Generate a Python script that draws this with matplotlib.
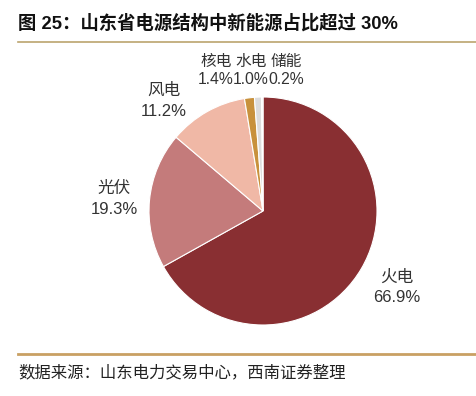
import matplotlib
matplotlib.use("Agg")
import matplotlib.pyplot as plt
from matplotlib.lines import Line2D

plt.rcParams['font.family'] = ['Liberation Sans', 'Noto Sans CJK SC', 'DejaVu Sans']

categories = ["火电", "光伏", "风电", "核电", "水电", "储能"]
values = [66.9, 19.3, 11.2, 1.4, 1.0, 0.2]
colors = ["#892F32", "#C47B7B", "#F0B8A6", "#C8913C", "#DCDCDC", "#F2F2F2"]
title = "图 25：山东省电源结构中新能源占比超过 30%"
source = "数据来源：山东电力交易中心，西南证券整理"

W, H = 477, 396
fig = plt.figure(figsize=(W / 100, H / 100), dpi=100)
fig.patch.set_facecolor("white")

def fx(px):
    return px / W

def fy(py):
    return 1 - py / H

# pie axes: center (263, 211), radius 114 px
cx, cy, r = 263, 211, 114
ax = fig.add_axes([fx(cx - r), fy(cy + r), 2 * r / W, 2 * r / H])
ax.pie(values, colors=colors, startangle=90, counterclock=False,
       wedgeprops=dict(edgecolor="white", linewidth=0.8), radius=1.0)
ax.set_xlim(-1, 1)
ax.set_ylim(-1, 1)
ax.axis("off")

# labels (pixel positions of label centers, font size)
label_pos = {
    "火电": (397, 277, 297, 12),
    "光伏": (114, 188, 209, 12),
    "风电": (164, 90, 111, 12),
    "核电": (216, 61, 80, 11.3),
    "水电": (251, 61, 80, 11.3),
    "储能": (286, 61, 80, 11.3),
}
for cat, val in zip(categories, values):
    x, y1, y2, fs = label_pos[cat]
    fig.text(fx(x), fy(y1), cat, ha="center", va="center", fontsize=fs, color="#333333")
    fig.text(fx(x), fy(y2), f"{val:.1f}%", ha="center", va="center", fontsize=fs, color="#333333")

# title
fig.text(fx(18), fy(23), title, ha="left", va="center", fontsize=13.2,
         fontweight="bold", color="#111111")
fig.add_artist(Line2D([fx(18), 1.0], [fy(42), fy(42)], color="#BBA46E", linewidth=1.2))

# source
fig.add_artist(Line2D([fx(18), 1.0], [fy(354), fy(354)], color="#C9A063", linewidth=2.0))
fig.text(fx(18), fy(373), source, ha="left", va="center", fontsize=11.8, color="#222222",
         style="italic")

fig.savefig("out.png", dpi=100, facecolor="white")
